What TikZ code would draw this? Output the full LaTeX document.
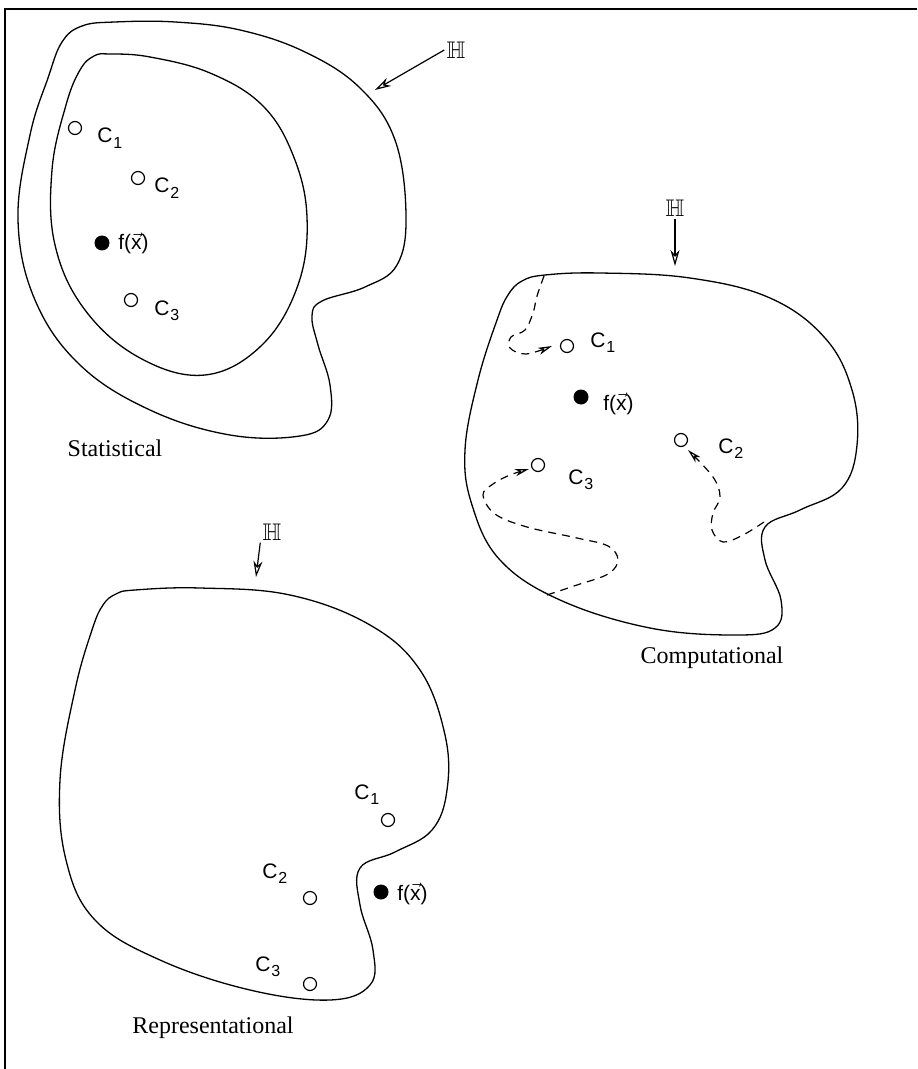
\documentclass[tikz,border=0pt]{standalone}
\usepackage{amssymb}
\usepackage{fontspec}
\setmainfont{Liberation Serif}
\setsansfont{Liberation Sans}
\usetikzlibrary{arrows.meta}
\newcommand{\clab}[1]{C\kern0.4pt\raisebox{-2.6pt}{\fontsize{8pt}{9pt}\selectfont #1}}
\newcommand{\fvx}{\textsf{f(}$\vec{\textsf{x}}$\textsf{)}}
\begin{document}
\begin{tikzpicture}[x=0.5pt,y=-0.5pt,
  outline/.style={line width=0.65pt,line join=round},
  opendot/.style={circle,draw,line width=0.6pt,inner sep=0pt,minimum size=6.5pt},
  fulldot/.style={circle,fill=black,inner sep=0pt,minimum size=7.5pt},
  clabel/.style={font=\sffamily\fontsize{10.5pt}{12pt}\selectfont,anchor=base west,inner sep=0pt},
  caption/.style={font=\fontsize{12pt}{14pt}\selectfont,anchor=base,inner sep=0pt},
  hlabel/.style={font=\large,inner sep=1pt},
  harrow/.style={line width=0.6pt,-{Stealth[open,length=8pt,width=4.5pt,inset=2.5pt]}},
  dpath/.style={line width=0.6pt,dash pattern=on 4pt off 3pt,-{Stealth[open,length=7pt,width=3.6pt,inset=2pt]}}
]
\useasboundingbox (0,0) rectangle (917,1069);
% frame
\draw[line width=1pt] (917,9) -- (5,9) -- (5,1069);

% ---------------- Statistical ----------------
\draw[outline] plot[smooth cycle,tension=0.65] coordinates {
 (115,22) (175,22) (240,30) (305,52) (360,88) (395,140) (406,215) (397,265)
 (365,287) (322,301) (312,316) (318,345) (330,385) (328,420) (300,436) (230,435)
 (150,410) (80,365) (35,300) (18,220) (30,135) (48,78) (62,42) (82,26)};
\draw[outline] plot[smooth cycle,tension=0.65] coordinates {
 (110,54) (150,57) (210,73) (262,105) (293,155) (307,217) (298,285) (262,345)
 (205,375) (140,358) (85,310) (55,245) (52,170) (66,105) (80,70) (94,56)};
\node[opendot] (s1) at (75,128) {};
\node[clabel] (s1l) at (97,143) {\clab{1}};
\node[opendot] (s2) at (138,178) {};
\node[clabel] (s2l) at (154,193) {\clab{2}};
\node[fulldot] (sf) at (102,243) {};
\node[clabel] (sfl) at (118,250) {\fvx};
\node[opendot] (s3) at (131,300) {};
\node[clabel] (s3l) at (154,315) {\clab{3}};
\node[hlabel] (hs) at (456,50) {$\mathbb{H}$};
\coordinate (hsT) at (375,90);
\draw[harrow] (hs.west) -- (hsT);
\node[caption] (stat) at (115,456) {Statistical};

% ---------------- Computational ----------------
\draw[outline] plot[smooth cycle,tension=0.65] coordinates {
 (545,275) (600,273) (690,278) (770,298) (825,338) (852,390) (857,445) (842,488)
 (800,510) (765,527) (765,560) (781,600) (775,628) (735,635) (650,628) (560,600)
 (500,560) (472,505) (465,450) (478,380) (497,320) (508,295) (522,281)};
\node[opendot] (c1) at (567,346) {};
\node[clabel] (c1l) at (590,347) {\clab{1}};
\node[fulldot] (cf) at (581,397) {};
\node[clabel] (cfl) at (603,410) {\fvx};
\node[opendot] (c2) at (681,440) {};
\node[clabel] (c2l) at (718,453) {\clab{2}};
\node[opendot] (c3) at (538,465) {};
\node[clabel] (c3l) at (568,484) {\clab{3}};
\node[hlabel] (hc) at (675,208) {$\mathbb{H}$};
\coordinate (hcT) at (675,266);
\draw[harrow] (hc.south) -- (hcT);
\node[caption] (comp) at (712,663) {Computational};
% dashed search paths
\coordinate (p1s) at (544,276);
\coordinate (p1e) at (552,346);
\draw[dpath] plot[smooth,tension=0.6] coordinates {
 (p1s) (537,296) (533,313) (525,330) (511,337) (510,348) (526,354) (p1e)};
\coordinate (p2s) at (764,522);
\coordinate (p2e) at (688,450);
\draw[dpath] plot[smooth,tension=0.6] coordinates {
 (p2s) (743,535) (723,542) (712,530) (713,513) (720,497) (713,477) (p2e)};
\coordinate (p3s) at (547,595);
\coordinate (p3e) at (529,469);
\draw[dpath] plot[smooth,tension=0.6] coordinates {
 (p3s) (577,585) (608,574) (618,560) (608,546) (577,538) (527,527) (495,514)
 (483,495) (493,484) (510,475) (p3e)};

% ---------------- Representational ----------------
\draw[outline] plot[smooth cycle,tension=0.65] coordinates {
 (135,590) (200,588) (290,595) (370,625) (420,670) (445,735) (447,790) (432,830)
 (395,852) (360,868) (360,905) (373,950) (370,985) (330,1000) (250,990) (160,960)
 (95,920) (66,860) (60,780) (75,690) (92,630) (103,605) (116,594)};
\node[opendot] (r1) at (388,820) {};
\node[clabel] (r1l) at (354,799) {\clab{1}};
\node[opendot] (r2) at (310,898) {};
\node[clabel] (r2l) at (262,878) {\clab{2}};
\node[fulldot] (rf) at (381,892) {};
\node[clabel] (rfl) at (397,900) {\fvx};
\node[opendot] (r3) at (310,984) {};
\node[clabel] (r3l) at (255,971) {\clab{3}};
\node[hlabel] (hr) at (272,532) {$\mathbb{H}$};
\coordinate (hrT) at (256,577);
\draw[harrow] (hr.south west) -- (hrT);
\node[caption] (rep) at (213,1033) {Representational};
\end{tikzpicture}
\end{document}
